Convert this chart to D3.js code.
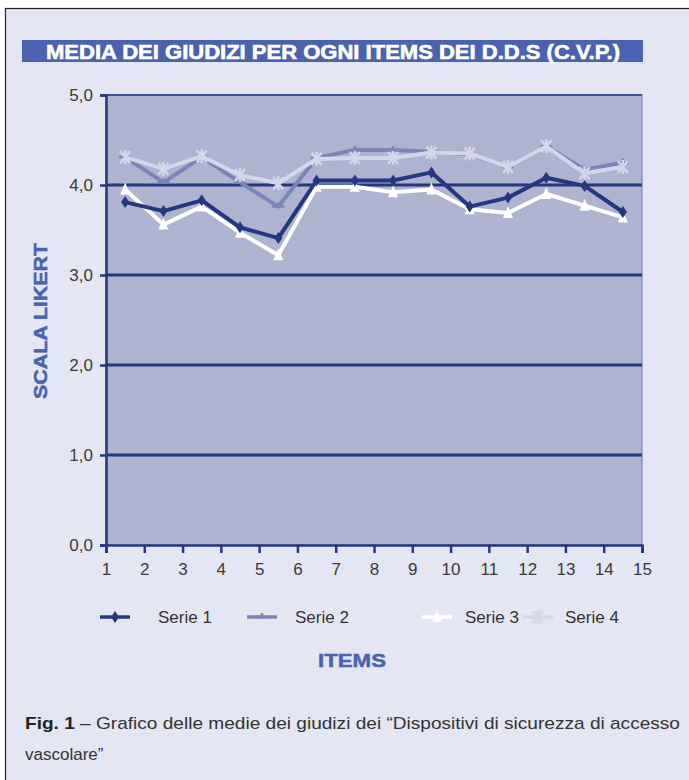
<!DOCTYPE html>
<html lang="it">
<head>
<meta charset="utf-8">
<title>Media dei giudizi</title>
<script src="https://cdn.jsdelivr.net/npm/d3@7"></script>
<style>
body { margin: 0; background: #fff; }
text { font-family: "Liberation Sans", Arial, sans-serif; }
</style>
</head>
<body>
<script>
// items and values of the four series
var items = [1.5, 2.5, 3.5, 4.5, 5.5, 6.5, 7.5, 8.5, 9.5, 10.5, 11.5, 12.5, 13.5, 14.5];
var serie1 = [3.81, 3.71, 3.83, 3.53, 3.41, 4.05, 4.05, 4.05, 4.14, 3.76, 3.86, 4.08, 3.99, 3.70];
var serie2 = [4.31, 4.03, 4.31, 4.03, 3.76, 4.30, 4.39, 4.39, 4.37, 4.34, 4.20, 4.43, 4.17, 4.25];
var serie3 = [3.95, 3.56, 3.76, 3.47, 3.22, 3.98, 3.98, 3.92, 3.95, 3.73, 3.69, 3.90, 3.77, 3.64];
var serie4 = [4.31, 4.18, 4.32, 4.11, 4.02, 4.29, 4.30, 4.30, 4.36, 4.35, 4.20, 4.43, 4.13, 4.20];
var seriesNames = ["Serie 1", "Serie 2", "Serie 3", "Serie 4"];
var xTicks = [1, 2, 3, 4, 5, 6, 7, 8, 9, 10, 11, 12, 13, 14, 15];
var yTicks = [0, 1, 2, 3, 4, 5];

var W = 689, H = 780;
var navy = "#24387f", blue = "#4a62b0";

var svg = d3.select("body").append("svg")
    .attr("width", W)
    .attr("height", H);

// page box
svg.append("rect").attr("x", 5.5).attr("y", 8.5).attr("width", 700).attr("height", 800)
    .attr("fill", "#e4e6f3").attr("stroke", "#222").attr("stroke-width", 1.2);

// title bar
svg.append("rect").attr("x", 22).attr("y", 40).attr("width", 621).attr("height", 22).attr("fill", blue);
svg.append("text").attr("x", 333).attr("y", 59).attr("text-anchor", "middle")
    .attr("font-size", 20).attr("font-weight", "bold").attr("fill", "#fff")
    .attr("stroke", "#fff").attr("stroke-width", 0.6)
    .attr("textLength", 574).attr("lengthAdjust", "spacingAndGlyphs")
    .text("MEDIA DEI GIUDIZI PER OGNI ITEMS DEI D.D.S (C.V.P.)");

var x = d3.scaleLinear().domain([1, 15]).range([106, 642]);
var y = d3.scaleLinear().domain([0, 5]).range([545, 95]);

// plot area
svg.append("rect").attr("x", x(1)).attr("y", y(5)).attr("width", x(15) - x(1)).attr("height", y(0) - y(5))
    .attr("fill", "#aeb3cf").attr("stroke", "#8e96c0").attr("stroke-width", 1.5);

// gridlines
svg.selectAll("line.grid").data(yTicks.slice(1, 5)).enter().append("line")
    .attr("class", "grid")
    .attr("x1", x(1)).attr("x2", x(15))
    .attr("y1", function(d) { return y(d); }).attr("y2", function(d) { return y(d); })
    .attr("stroke", navy).attr("stroke-width", 3);
svg.append("line").attr("x1", x(1)).attr("x2", x(15)).attr("y1", y(5)).attr("y2", y(5))
    .attr("stroke", "#3d4f95").attr("stroke-width", 2);

// axes
var yAxis = d3.axisLeft(y).tickValues(yTicks).tickSize(6).tickPadding(7)
    .tickFormat(function(d) { return d3.format(".1f")(d).replace(".", ","); });
var gy = svg.append("g").attr("transform", "translate(" + x(1) + ",0)").call(yAxis);
var xAxis = d3.axisBottom(x).tickValues(xTicks).tickSize(8).tickPadding(10);
var gx = svg.append("g").attr("transform", "translate(0," + y(0) + ")").call(xAxis);
[gy, gx].forEach(function(g) {
    g.select(".domain").attr("stroke", navy).attr("stroke-width", 2.5);
    g.selectAll(".tick line").attr("stroke", navy).attr("stroke-width", 2.5);
    g.selectAll(".tick text").attr("font-size", 17).attr("fill", "#3a3a3a")
        .attr("font-family", "'Liberation Sans', Arial, sans-serif");
});

// axis titles
svg.append("text").attr("transform", "translate(47,321) rotate(-90)")
    .attr("text-anchor", "middle").attr("font-size", 19).attr("font-weight", "bold")
    .attr("fill", blue).attr("stroke", blue).attr("stroke-width", 0.5)
    .attr("textLength", 156).attr("lengthAdjust", "spacingAndGlyphs")
    .text("SCALA LIKERT");
svg.append("text").attr("x", 352).attr("y", 667).attr("text-anchor", "middle")
    .attr("font-size", 19).attr("font-weight", "bold").attr("fill", blue)
    .attr("stroke", blue).attr("stroke-width", 0.5)
    .attr("textLength", 68).attr("lengthAdjust", "spacingAndGlyphs")
    .text("ITEMS");

// markers
function marker(g, kind, color) {
    if (kind == 0) {
        g.append("path").attr("d", "M0,-6L4,0L0,6L-4,0Z").attr("fill", color);
    } else if (kind == 1) {
        g.append("path").attr("d", "M-6,0H6M0,0V-4").attr("stroke", color).attr("stroke-width", 2.5);
    } else if (kind == 2) {
        g.append("path").attr("d", "M0,-7L5,5L-5,5Z").attr("fill", color);
    } else {
        g.append("path").attr("d", "M-5,-6L5,6M5,-6L-5,6M0,-7V7").attr("stroke", color).attr("stroke-width", 2.5);
    }
}

var series = [
    { name: seriesNames[1], vals: serie2, color: "#7c86b6", kind: 1 },
    { name: seriesNames[3], vals: serie4, color: "#d4d7e9", kind: 3 },
    { name: seriesNames[2], vals: serie3, color: "#ffffff", kind: 2 },
    { name: seriesNames[0], vals: serie1, color: navy, kind: 0 }
];

var line = d3.line()
    .x(function(d) { return x(d[0]); })
    .y(function(d) { return y(d[1]); });

series.forEach(function(s) {
    var pts = d3.zip(items, s.vals);
    svg.append("path").datum(pts).attr("d", line)
        .attr("fill", "none").attr("stroke", s.color).attr("stroke-width", 4)
        .attr("stroke-linejoin", "round");
    svg.selectAll(null).data(pts).enter().append("g")
        .attr("transform", function(d) { return "translate(" + x(d[0]) + "," + y(d[1]) + ")"; })
        .each(function() { marker(d3.select(this), s.kind, s.color); });
});

// legend
var legX = [100, 247, 422, 523];
var legTx = [158, 295, 465, 565];
var legOrder = [3, 0, 2, 1];
legOrder.forEach(function(si, i) {
    var s = series[si];
    svg.append("line").attr("x1", legX[i]).attr("x2", legX[i] + 30).attr("y1", 617).attr("y2", 617)
        .attr("stroke", s.color).attr("stroke-width", 3.5);
    var g = svg.append("g").attr("transform", "translate(" + (legX[i] + 15) + ",617)");
    marker(g, s.kind, s.color);
    svg.append("text").attr("x", legTx[i]).attr("y", 623).attr("font-size", 17)
        .attr("fill", "#333").text(s.name);
});

// caption
var cap = svg.append("text").attr("x", 25).attr("y", 729).attr("font-size", 17).attr("fill", "#333")
    .attr("textLength", 655).attr("lengthAdjust", "spacingAndGlyphs");
cap.append("tspan").attr("font-weight", "bold").attr("fill", "#222").text("Fig. 1");
cap.append("tspan").text(" \u2013 Grafico delle medie dei giudizi dei \u201cDispositivi di sicurezza di accesso");
svg.append("text").attr("x", 25).attr("y", 760).attr("font-size", 17).attr("fill", "#333")
    .text("vascolare\u201d");
</script>
</body>
</html>
